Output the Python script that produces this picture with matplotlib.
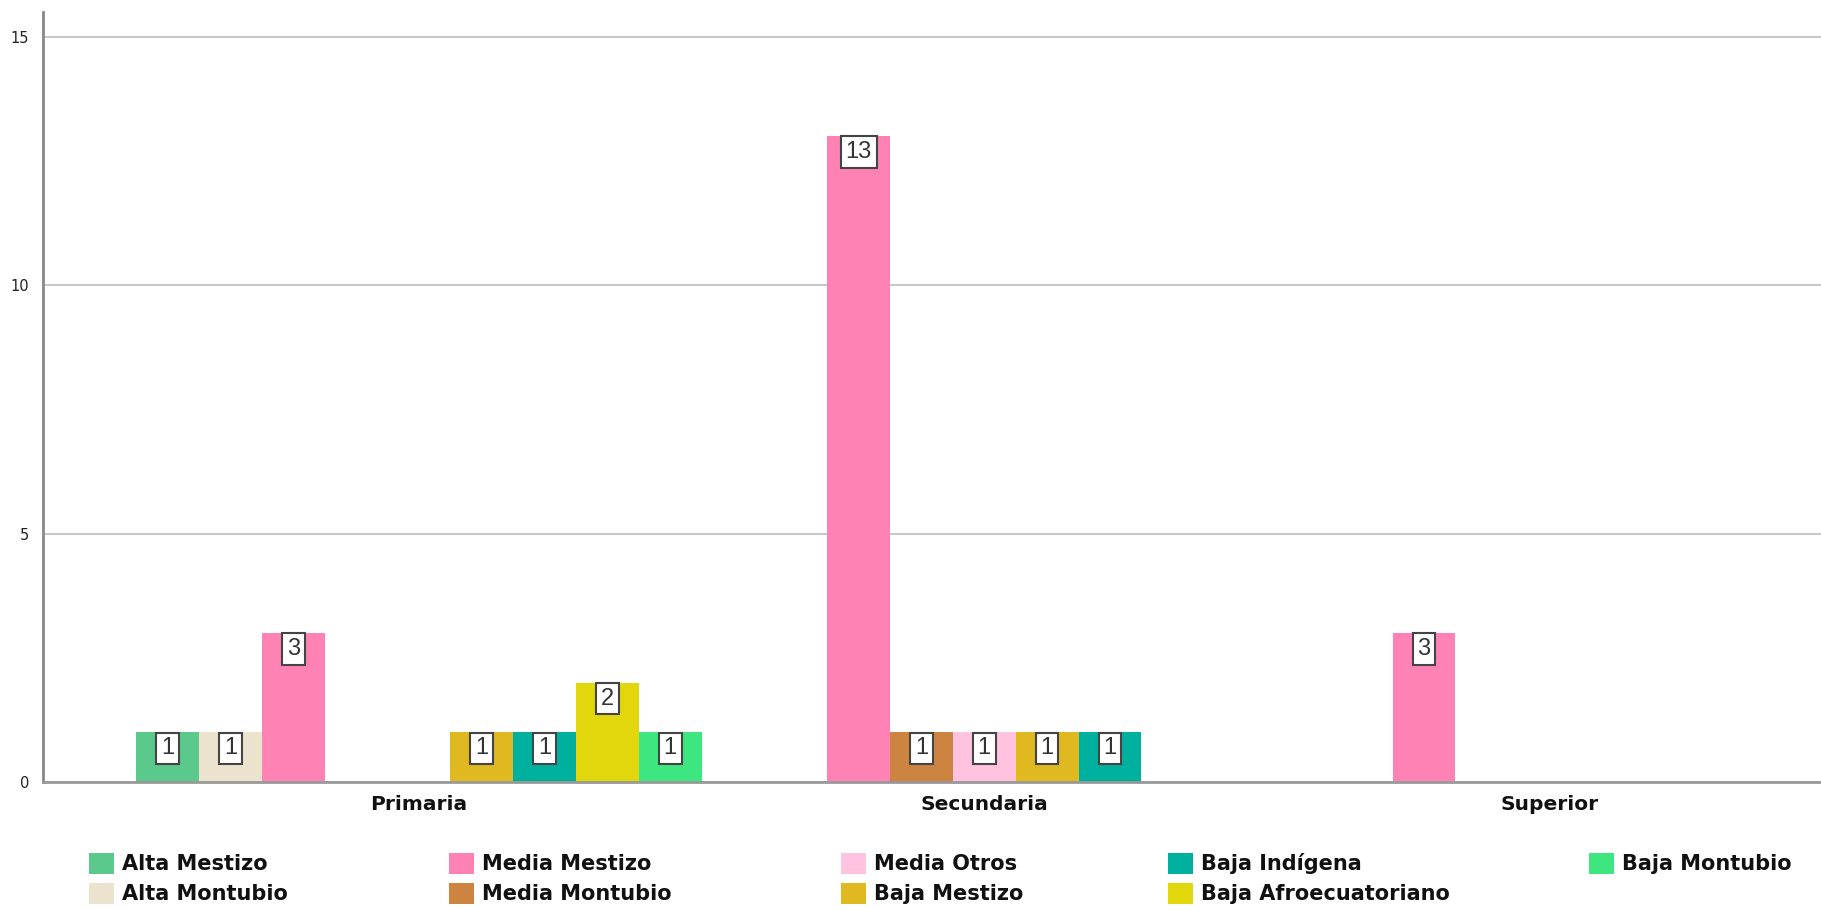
import matplotlib
matplotlib.use("Agg")
import matplotlib.pyplot as plt
from matplotlib.patches import Rectangle
import numpy as np

# the SPSS export is stretched sideways, so a wide family fits its text best
plt.rcParams["font.family"] = ["DejaVu Sans"]

# categories on the x axis
categories = ["Primaria", "Secundaria", "Superior"]

# series (clusters), in SPSS order
series = ["Alta Mestizo", "Alta Montubio", "Media Mestizo", "Media Montubio", "Media Otros",
          "Baja Mestizo", "Baja Indígena", "Baja Afroecuatoriano", "Baja Montubio"]
colors = ["#5BC98B", "#EBE3CD", "#FF82B4", "#CC8440", "#FFC2DF",
          "#E0B820", "#00B09F", "#E2D60D", "#3DE67F"]

# counts per series for Primaria / Secundaria / Superior
alta_mestizo = [1, 0, 0]
alta_montubio = [1, 0, 0]
media_mestizo = [3, 13, 3]
media_montubio = [0, 1, 0]
media_otros = [0, 1, 0]
baja_mestizo = [1, 1, 0]
baja_indigena = [1, 1, 0]
baja_afro = [2, 0, 0]
baja_montubio = [1, 0, 0]
values = [alta_mestizo, alta_montubio, media_mestizo, media_montubio, media_otros,
          baja_mestizo, baja_indigena, baja_afro, baja_montubio]

W, H = 1821, 910
fig = plt.figure(figsize=(W / 100, H / 100), dpi=100)
ax = fig.add_axes([43 / W, 1 - 782 / H, 1 - 43 / W, (782 - 12) / H])

n = len(series)
w = 1.0 / n
x = np.arange(len(categories))
for i, (name, col, vals) in enumerate(zip(series, colors, values)):
    xs = x + (i - (n - 1) / 2) * w
    for xi, v in zip(xs, vals):
        if v == 0:
            continue
        ax.bar(xi, v, width=w, color=col, edgecolor="none", zorder=2)
        ax.annotate(str(v), (xi, v), xytext=(0, -3.6), textcoords="offset points",
                    ha="center", va="top", fontsize=17, color="#333333", zorder=4,
                    family="Liberation Sans",
                    bbox=dict(boxstyle="square,pad=0.2", facecolor="white",
                              edgecolor="#444444", linewidth=1.5))

ax.set_xlim(-0.665, 2.48)
ax.set_ylim(0, 15.5)
ax.set_yticks([0, 5, 10, 15])
ax.set_xticks(x)
ax.set_xticklabels(categories, fontsize=14.5, fontweight="bold")
ax.tick_params(axis="y", length=0, pad=10, labelsize=10.5, labelcolor="#222222")
ax.tick_params(axis="x", length=0, pad=9, labelcolor="#111111")
ax.yaxis.grid(True, color="#c8c8c8", linewidth=1.5, zorder=0)
ax.set_axisbelow(True)
for s in ("top", "right"):
    ax.spines[s].set_visible(False)
ax.spines["left"].set_color("#888888")
ax.spines["left"].set_linewidth(2)
ax.spines["bottom"].set_color("#999999")
ax.spines["bottom"].set_linewidth(2)

# legend laid out like the SPSS one: 5 columns, 2 rows, filled column-wise
col_x = [89, 449, 841, 1168, 1589]
row_y = [864, 894]
for i, (name, col) in enumerate(zip(series, colors)):
    cx, ry = col_x[i // 2], row_y[i % 2]
    fig.add_artist(Rectangle((cx / W, 1 - (ry + 10) / H), 25 / W, 21 / H,
                             transform=fig.transFigure, facecolor=col, edgecolor="none"))
    fig.text((cx + 33) / W, 1 - ry / H, name, fontsize=15, fontweight="bold",
             va="center", ha="left", color="#111111")

fig.savefig("out.png", dpi=100, facecolor="white")
